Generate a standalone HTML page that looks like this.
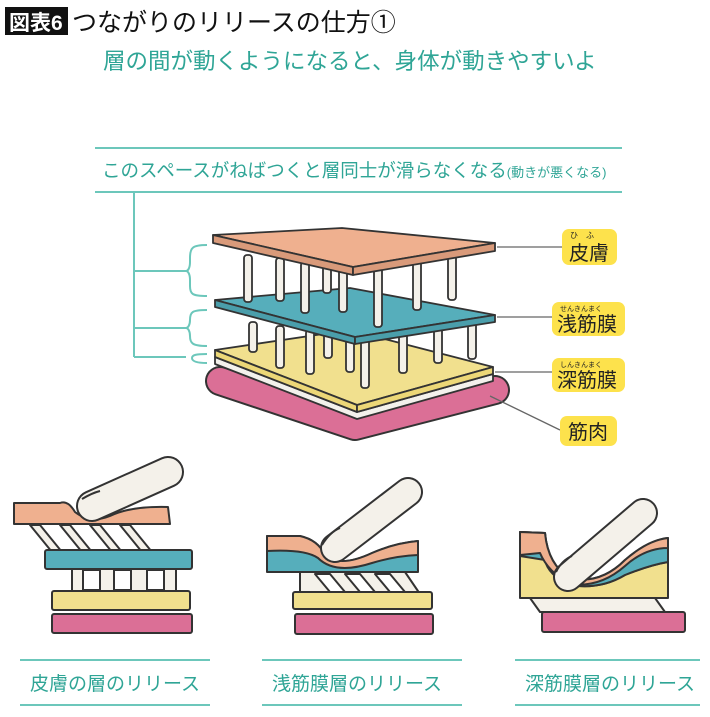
<!DOCTYPE html>
<html><head><meta charset="utf-8"><style>
body{margin:0;background:#fff;}
svg{display:block}
text{font-family:"Liberation Sans","Noto Sans CJK JP",sans-serif;}
</style></head><body>
<svg width="710" height="717" viewBox="0 0 710 717" xmlns="http://www.w3.org/2000/svg">
<rect width="710" height="717" fill="#fff"/>
<rect x="5" y="7" width="63" height="28" fill="#111"/>
<text x="9" y="30" font-size="21" fill="#fff" font-weight="bold">図表6</text>
<text x="72" y="31" font-size="25" fill="#111">つながりのリリースの仕方①</text>
<text x="103" y="69" font-size="22.5" fill="#2fa596">層の間が動くようになると、身体が動きやすいよ</text>
<g stroke="#6cc7bb" stroke-width="2" fill="none">
<line x1="95" y1="148" x2="622" y2="148"/>
<line x1="95" y1="192" x2="622" y2="192"/>
<line x1="134" y1="192" x2="134" y2="357"/>
<line x1="134" y1="271" x2="186" y2="271"/>
<line x1="134" y1="328" x2="186" y2="328"/>
<line x1="134" y1="357" x2="186" y2="357"/>
<path d="M207,245 C192,245 190,248 190,258 L190,262 C190,268 188,271 186,271 C188,271 190,274 190,280 L190,286 C190,294 192,296 207,296"/>
<path d="M207,310 C192,310 190,312 190,320 C190,325 188,328 186,328 C188,328 190,331 190,336 C190,343 192,346 207,346"/>
<path d="M207,354 C196,354 192,355 192,358 C192,361 196,363 207,363"/>
</g>
<text x="102" y="177" font-size="18.5" fill="#2fa596">このスペースがねばつくと層同士が滑らなくなる<tspan font-size="13">(動きが悪くなる)</tspan></text>

<g stroke="#333" stroke-width="1.8" stroke-linejoin="round">
<path d="M220,381 L355,426 L495,390" fill="none" stroke="#333" stroke-width="30" stroke-linecap="round"/>
<path d="M220,381 L355,426 L495,390" fill="none" stroke="#db6f96" stroke-width="26" stroke-linecap="round"/>
<path d="M215,357 L357,412 L493,374 L493,381 L357,419 L215,364 Z" fill="#f3f1ec"/>
<path d="M215,350 L350,330 L493,367 L357,405 Z" fill="#f1e08e"/>
<path d="M215,350 L357,405 L357,412 L215,357 Z" fill="#ecd777"/>
<path d="M357,405 L493,367 L493,374 L357,412 Z" fill="#ecd777"/>
<g fill="#f4f1ea">
<rect x="249" y="322" width="8" height="30" rx="3"/>
<rect x="276" y="326" width="8" height="42" rx="3"/>
<rect x="306" y="330" width="8" height="44" rx="3"/>
<rect x="324" y="333" width="8" height="25" rx="3"/>
<rect x="346" y="336" width="8" height="36" rx="3"/>
<rect x="361" y="334" width="8" height="54" rx="3"/>
<rect x="399" y="329" width="8" height="44" rx="3"/>
<rect x="434" y="325" width="8" height="38" rx="3"/>
<rect x="468" y="319" width="8" height="40" rx="3"/>
</g>
<path d="M215,300 L350,288 L495,315 L355,337 Z" fill="#56aebb"/>
<path d="M215,300 L355,337 L355,344 L215,307 Z" fill="#4a9eab"/>
<path d="M355,337 L495,315 L495,322 L355,344 Z" fill="#4a9eab"/>
<g fill="#f4f1ea">
<rect x="244" y="255" width="8" height="47" rx="3"/>
<rect x="276" y="258" width="8" height="43" rx="3"/>
<rect x="301" y="262" width="8" height="51" rx="3"/>
<rect x="323" y="265" width="8" height="28" rx="3"/>
<rect x="339" y="266" width="8" height="46" rx="3"/>
<rect x="374" y="264" width="8" height="63" rx="3"/>
<rect x="413" y="258" width="8" height="52" rx="3"/>
<rect x="448" y="252" width="8" height="48" rx="3"/>
</g>
<path d="M213,235 L342,228 L495,243 L353,267 Z" fill="#efb08f"/>
<path d="M213,235 L353,267 L353,275 L213,243 Z" fill="#d99a7a"/>
<path d="M353,267 L495,243 L495,251 L353,275 Z" fill="#d99a7a"/>
</g>
<g stroke="#666" stroke-width="1.3" fill="none">
<line x1="497" y1="247" x2="562" y2="247"/>
<line x1="497" y1="317" x2="552" y2="317"/>
<line x1="495" y1="372" x2="552" y2="372"/>
<line x1="490" y1="396" x2="560" y2="430"/>
</g>
<g fill="#fde24c">
<rect x="562" y="229" width="55" height="36" rx="7"/>
<rect x="552" y="302" width="73" height="34" rx="7"/>
<rect x="552" y="358" width="73" height="34" rx="7"/>
<rect x="560" y="416" width="57" height="30" rx="7"/>
</g>
<g fill="#222">
<text x="570" y="238" font-size="8" letter-spacing="8">ひふ</text>
<text x="569" y="260" font-size="20">皮膚</text>
<text x="560" y="311" font-size="7">せんきんまく</text>
<text x="557" y="331" font-size="20">浅筋膜</text>
<text x="560" y="367" font-size="7">しんきんまく</text>
<text x="557" y="387" font-size="20">深筋膜</text>
<text x="568" y="439" font-size="20">筋肉</text>
</g>

<g stroke="#333" stroke-width="2" stroke-linejoin="round">
<path d="M40,525 L30,525 L52,552 L62,552 Z M70,525 L60,525 L82,552 L92,552 Z M100,525 L90,525 L112,552 L122,552 Z M130,525 L120,525 L142,552 L152,552 Z" fill="#f4f1ea"/>
<rect x="72" y="568" width="104" height="24" fill="#f4f1ea"/>
<rect x="83" y="570" width="17" height="20" fill="#fff"/>
<rect x="114" y="570" width="17" height="20" fill="#fff"/>
<rect x="147" y="570" width="17" height="20" fill="#fff"/>
<path d="M14,503 L60,503 Q68,500 75,512 Q90,524 110,516 Q130,506 168,507 L170,524 L14,524 Z" fill="#efb08f"/>
<rect x="45" y="550" width="147" height="19" rx="2" fill="#56aebb"/>
<rect x="52" y="591" width="138" height="19" rx="2" fill="#f1e08e"/>
<rect x="52" y="614" width="140" height="19" rx="2" fill="#db6f96"/>
</g>
<path d="M92,506 L168,472" stroke="#333" stroke-width="32" stroke-linecap="round"/>
<path d="M92,506 L168,472" stroke="#f4f1ea" stroke-width="28" stroke-linecap="round"/>
<path d="M82,499 Q92,493 100,491" stroke="#333" stroke-width="2" fill="none"/>

<g stroke="#333" stroke-width="2" stroke-linejoin="round">
<path d="M300,572 L405,572 L420,594 L300,594 Z" fill="#f4f1ea"/>
<path d="M315,574 L330,574 L345,592 L330,592 Z M345,574 L360,574 L375,592 L360,592 Z M375,574 L390,574 L405,592 L390,592 Z" fill="#fff"/>
<path d="M267,536 L300,536 Q318,540 325,555 Q340,568 372,553 Q395,543 418,541 L418,572 L267,572 Z" fill="#56aebb"/>
<path d="M267,536 L300,536 Q318,540 325,555 Q340,568 372,553 Q395,543 418,541 L418,555 Q395,556 372,563 Q335,575 318,558 Q305,549 267,551 Z" fill="#efb08f"/>
<rect x="293" y="592" width="139" height="17" rx="2" fill="#f1e08e"/>
<rect x="295" y="614" width="138" height="20" rx="2" fill="#db6f96"/>
</g>
<path d="M335,548 L408,492" stroke="#333" stroke-width="30" stroke-linecap="round"/>
<path d="M335,548 L408,492" stroke="#f4f1ea" stroke-width="26" stroke-linecap="round"/>
<path d="M322,545 Q330,532 340,528" stroke="#333" stroke-width="2" fill="none"/>

<g stroke="#333" stroke-width="2" stroke-linejoin="round">
<path d="M530,598 L655,598 L665,612 L540,612 Z" fill="#f4f1ea"/>
<path d="M520,532 L545,533 Q548,575 570,585 Q600,590 625,575 Q650,565 668,562 L668,598 L520,598 Z" fill="#f1e08e"/>
<path d="M520,532 L545,533 Q548,565 570,578 Q600,585 625,560 Q648,540 668,538 L668,562 Q650,565 625,575 Q600,590 570,585 Q548,575 545,560 L520,556 Z" fill="#56aebb"/>
<path d="M520,532 L545,533 Q548,565 570,578 Q600,585 625,560 Q648,540 668,538 L668,548 Q645,548 625,566 Q600,588 570,584 Q548,572 540,553 L520,555 Z" fill="#efb08f"/>
<rect x="542" y="612" width="143" height="20" rx="2" fill="#db6f96"/>
</g>
<path d="M568,577 L643,513" stroke="#333" stroke-width="30" stroke-linecap="round"/>
<path d="M568,577 L643,513" stroke="#f4f1ea" stroke-width="26" stroke-linecap="round"/>
<path d="M556,572 Q562,560 572,556" stroke="#333" stroke-width="2" fill="none"/>

<g stroke="#6cc7bb" stroke-width="2">
<line x1="20" y1="660" x2="210" y2="660"/><line x1="20" y1="705" x2="210" y2="705"/>
<line x1="262" y1="660" x2="462" y2="660"/><line x1="262" y1="705" x2="462" y2="705"/>
<line x1="515" y1="660" x2="700" y2="660"/><line x1="515" y1="705" x2="700" y2="705"/>
</g>
<g fill="#2fa596" font-size="19">
<text x="30" y="690">皮膚の層のリリース</text>
<text x="272" y="690">浅筋膜層のリリース</text>
<text x="525" y="690">深筋膜層のリリース</text>
</g>
</svg>
</body></html>
